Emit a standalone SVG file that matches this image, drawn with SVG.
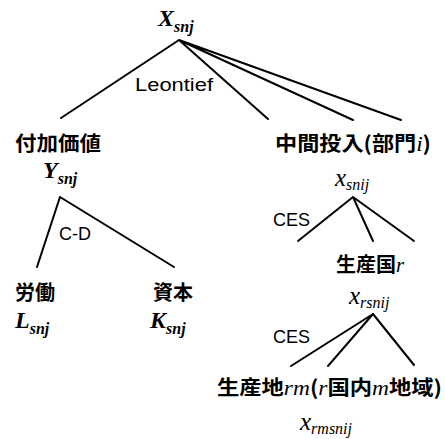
<svg xmlns="http://www.w3.org/2000/svg" width="445" height="439" viewBox="0 0 445 439">
<style>
.bg{fill:#fff}
.ln{stroke:#000;stroke-width:2;fill:none;stroke-linecap:round}
.jp{font-family:"Noto Sans CJK JP","Noto Sans",sans-serif;font-weight:bold;font-size:20px;fill:#000}
.lab{font-family:"Liberation Sans",Arial,sans-serif;font-size:18px;fill:#000}
.v{font-family:"Liberation Serif","Times New Roman",serif;font-style:italic;font-weight:bold;font-size:24px;fill:#000}
.w{font-family:"Liberation Serif","Times New Roman",serif;font-style:italic;font-weight:normal;font-size:25px;fill:#000}
.s{font-family:"Liberation Serif","Times New Roman",serif;font-style:italic;font-weight:normal;font-size:16px}
.sb{font-family:"Liberation Serif","Times New Roman",serif;font-style:italic;font-weight:bold;font-size:16px}
.it{font-family:"Liberation Serif","Times New Roman",serif;font-style:italic;font-weight:normal;font-size:21px}
</style>
<rect class="bg" x="0" y="0" width="445" height="439"/>
<g id="connectors">
<path class="ln" d="M179,40 L61,118 M179,40 L268,119 M179,40 L353,120 M179,40 L401,120"/>
<path class="ln" d="M60,197 L37,267 M60,197 L174,267"/>
<path class="ln" d="M353,197 L298,241 M353,197 L373,241 M353,197 L414,241"/>
<path class="ln" d="M373,314 L291,366 M373,314 L328,366 M373,314 L414,365"/>
</g>
<g id="node-X">
<text class="v" x="158" y="26">X<tspan class="sb" dy="6">snj</tspan></text>
</g>
<g id="label-leontief"><text class="lab" x="135" y="91" font-size="20" textLength="78" lengthAdjust="spacingAndGlyphs">Leontief</text></g>
<g id="node-value-added">
<text class="jp" x="15" y="151" textLength="86" lengthAdjust="spacingAndGlyphs">付加価値</text>
<text class="v" x="43" y="178">Y<tspan class="sb" dy="6">snj</tspan></text>
</g>
<g id="label-cd"><text class="lab" x="59" y="240">C-D</text></g>
<g id="node-labor">
<text class="jp" x="15" y="300">労働</text>
<text class="v" x="15" y="328">L<tspan class="sb" dy="6">snj</tspan></text>
</g>
<g id="node-capital">
<text class="jp" x="153" y="300">資本</text>
<text class="v" x="150" y="328">K<tspan class="sb" dy="6">snj</tspan></text>
</g>
<g id="node-intermediate">
<text class="jp" x="275" y="151" textLength="156" lengthAdjust="spacingAndGlyphs">中間投入(部門<tspan class="it">i</tspan>)</text>
<text class="w" x="335" y="186">x<tspan class="s" dy="4">snij</tspan></text>
</g>
<g id="label-ces1"><text class="lab" x="273" y="226">CES</text></g>
<g id="node-country">
<text class="jp" x="336" y="272">生産国<tspan class="it">r</tspan></text>
<text class="w" x="349" y="304">x<tspan class="s" dy="4">rsnij</tspan></text>
</g>
<g id="label-ces2"><text class="lab" x="273" y="343">CES</text></g>
<g id="node-region">
<text class="jp" x="217" y="395" textLength="225" lengthAdjust="spacingAndGlyphs">生産地<tspan class="it">rm</tspan>(<tspan class="it">r</tspan>国内<tspan class="it">m</tspan>地域)</text>
<text class="w" x="300" y="430">x<tspan class="s" dy="4">rmsnij</tspan></text>
</g>
</svg>
